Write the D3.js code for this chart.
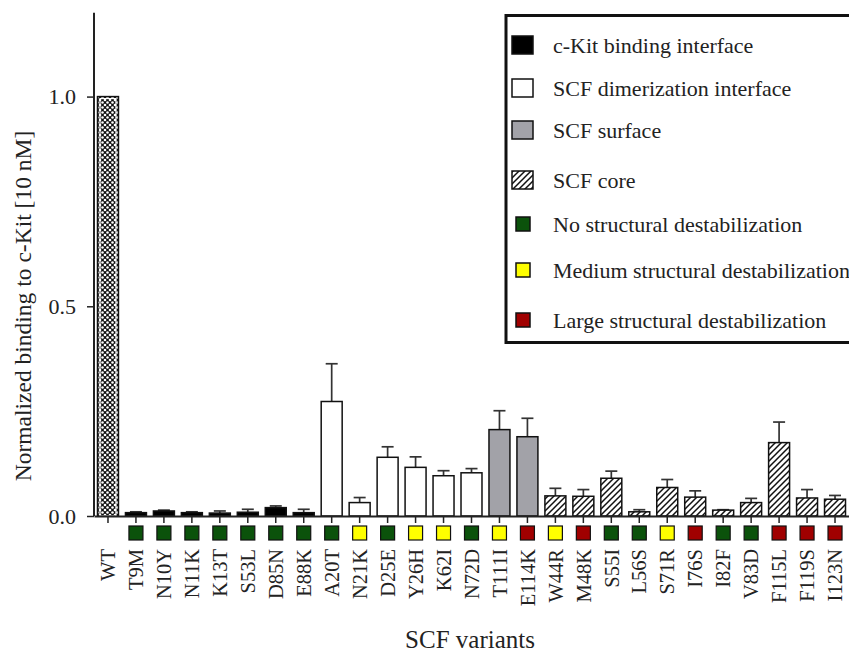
<!DOCTYPE html>
<html>
<head>
<meta charset="utf-8">
<script src="https://cdn.jsdelivr.net/npm/d3@7"></script>
<style>
  html, body { margin: 0; padding: 0; background: #fff; }
  svg { display: block; }
  svg text { font-family: "Liberation Serif", "Times New Roman", Times, serif; }
</style>
</head>
<body>
<svg id="chart" width="849" height="655"></svg>
<script>
// ---- data ----
const categories = ["WT","T9M","N10Y","N11K","K13T","S53L","D85N","E88K","A20T","N21K","D25E","Y26H","K62I","N72D","T111I","E114K","W44R","M48K","S55I","L56S","S71R","I76S","I82F","V83D","F115L","F119S","I123N"];
const values = [1.0,0.008,0.012,0.008,0.007,0.009,0.020,0.008,0.273,0.032,0.140,0.116,0.096,0.103,0.206,0.189,0.048,0.047,0.090,0.010,0.068,0.045,0.014,0.032,0.175,0.043,0.040];
const errors = [0,0.002,0.002,0.002,0.005,0.007,0.004,0.008,0.090,0.012,0.025,0.025,0.012,0.010,0.045,0.044,0.018,0.016,0.017,0.005,0.019,0.015,0.001,0.010,0.049,0.020,0.009];
const groups = ["wt","kit","kit","kit","kit","kit","kit","kit","dimer","dimer","dimer","dimer","dimer","dimer","surface","surface","core","core","core","core","core","core","core","core","core","core","core"];
const stability = [null,"none","none","none","none","none","none","none","none","medium","none","medium","medium","none","medium","large","medium","large","none","none","medium","large","none","none","large","large","large"];
const yTicks = [0, 0.5, 1.0];
const groupLegend = [["kit","c-Kit binding interface"],["dimer","SCF dimerization interface"],["surface","SCF surface"],["core","SCF core"]];
const stabilityLegend = [["none","No structural destabilization"],["medium","Medium structural destabilization"],["large","Large structural destabilization"]];

// ---- layout ----
const FONT = '"Liberation Serif", "Times New Roman", Times, serif';
const svg = d3.select("#chart");
const axisX = 94, axisY = 516, topY = 12.7;
const x = d3.scaleBand().domain(categories).range([94, 849]).paddingInner(0.25).paddingOuter(0.125);
const y = d3.scaleLinear().domain([0, 1.2]).range([axisY, topY]);

const defs = svg.append("defs");
const hatch = defs.append("pattern").attr("id","hatch").attr("patternUnits","userSpaceOnUse").attr("width",6).attr("height",6);
hatch.append("rect").attr("width",6).attr("height",6).attr("fill","#fff");
hatch.append("path").attr("d","M0,6 L6,0 M-1.5,1.5 L1.5,-1.5 M4.5,7.5 L7.5,4.5").attr("stroke","#111").attr("stroke-width",1.5);
const check = defs.append("pattern").attr("id","check").attr("patternUnits","userSpaceOnUse").attr("width",5).attr("height",5);
check.append("rect").attr("width",5).attr("height",5).attr("fill","#111");
[[0,0],[5,0],[0,5],[5,5],[2.5,2.5]].forEach(p => check.append("circle").attr("cx",p[0]).attr("cy",p[1]).attr("r",1.3).attr("fill","#fff"));

const fillOf = {wt:"url(#check)", kit:"#000", dimer:"#fff", surface:"#a2a2a8", core:"url(#hatch)"};
const stabColor = {none:"#0b520b", medium:"#ffff00", large:"#a00000"};

const data = categories.map((c,i) => ({c, v:values[i], e:errors[i], g:groups[i], s:stability[i]}));

// error bars (behind bars)
const eb = svg.append("g").attr("stroke","#333").attr("stroke-width",1.7);
data.filter(d => d.e > 0).forEach(d => {
  const cx = x(d.c) + x.bandwidth()/2;
  eb.append("line").attr("x1",cx).attr("x2",cx).attr("y1",y(d.v)).attr("y2",y(d.v+d.e));
  eb.append("line").attr("x1",cx-6).attr("x2",cx+6).attr("y1",y(d.v+d.e)).attr("y2",y(d.v+d.e));
});

// bars
svg.append("g").selectAll("rect").data(data).join("rect")
  .attr("x", d => x(d.c)).attr("width", x.bandwidth())
  .attr("y", d => y(d.v)).attr("height", d => axisY - y(d.v))
  .attr("fill", d => fillOf[d.g]).attr("stroke","#111").attr("stroke-width",1.5);
const wt = data[0];
svg.append("rect").attr("x", x(wt.c)+2.5).attr("width", x.bandwidth()-5)
  .attr("y", y(wt.v)+2).attr("height", axisY - y(wt.v) - 2)
  .attr("fill","none").attr("stroke","#fff").attr("stroke-width",1.2);

// y axis
const yAxis = svg.append("g").attr("transform",`translate(${axisX},0)`)
  .call(d3.axisLeft(y).tickValues(yTicks).tickFormat(d3.format(".1f")).tickSize(7).tickSizeOuter(0));
yAxis.select(".domain").attr("stroke","#222").attr("stroke-width",2).attr("d",`M0,${topY}V${axisY}`);
yAxis.selectAll(".tick line").attr("stroke","#222").attr("stroke-width",1.5);
yAxis.selectAll(".tick text").attr("font-size",22).attr("fill","#222").attr("x",-18).attr("font-family",FONT);

// x axis
const xAxis = svg.append("g").attr("transform",`translate(0,${axisY})`)
  .call(d3.axisBottom(x).tickSize(7).tickSizeOuter(0).tickFormat(""));
xAxis.select(".domain").attr("stroke","#222").attr("stroke-width",2);
xAxis.selectAll(".tick line").attr("stroke","#222").attr("stroke-width",1.5);

// stability squares
svg.append("g").selectAll("rect").data(data.filter(d => d.s)).join("rect")
  .attr("x", d => x(d.c) + x.bandwidth()/2 - 7).attr("y", 526).attr("width",14).attr("height",14)
  .attr("fill", d => stabColor[d.s]).attr("stroke","#111").attr("stroke-width",1.2);

// category labels
svg.append("g").selectAll("text").data(data).join("text")
  .attr("transform", d => `translate(${x(d.c) + x.bandwidth()/2},549) rotate(-90)`)
  .attr("text-anchor","end").attr("dy","0.35em").attr("font-size",20.5).attr("fill","#222").attr("font-family",FONT)
  .text(d => d.c);

// axis titles
svg.append("text").attr("x",470).attr("y",648).attr("text-anchor","middle").attr("font-size",25).attr("fill","#222").attr("font-family",FONT).text("SCF variants");
svg.append("text").attr("transform","translate(31,306) rotate(-90)").attr("text-anchor","middle").attr("font-size",23.5).attr("fill","#222").attr("font-family",FONT)
  .text("Normalized binding to c-Kit [10 nM]");

// legend
const lg = svg.append("g");
lg.append("rect").attr("x",506).attr("y",15.5).attr("width",360).attr("height",327).attr("fill","#fff").attr("stroke","#111").attr("stroke-width",3);
const groupRows = [45, 88, 130, 180];
groupLegend.forEach((g,i) => {
  lg.append("rect").attr("x",512).attr("y",groupRows[i]-9).attr("width",21).attr("height",18)
    .attr("fill", fillOf[g[0]]).attr("stroke","#111").attr("stroke-width",1.5);
  lg.append("text").attr("x",553).attr("y",groupRows[i]).attr("dy","0.35em").attr("font-size",22).attr("fill","#222").attr("font-family",FONT).text(g[1]);
});
const stabRows = [224, 270, 320];
stabilityLegend.forEach((s,i) => {
  lg.append("rect").attr("x",516).attr("y",stabRows[i]-7).attr("width",14).attr("height",14)
    .attr("fill", stabColor[s[0]]).attr("stroke","#111").attr("stroke-width",1.5);
  lg.append("text").attr("x",553).attr("y",stabRows[i]).attr("dy","0.35em").attr("font-size",22).attr("fill","#222").attr("font-family",FONT).text(s[1]);
});
</script>
</body>
</html>
